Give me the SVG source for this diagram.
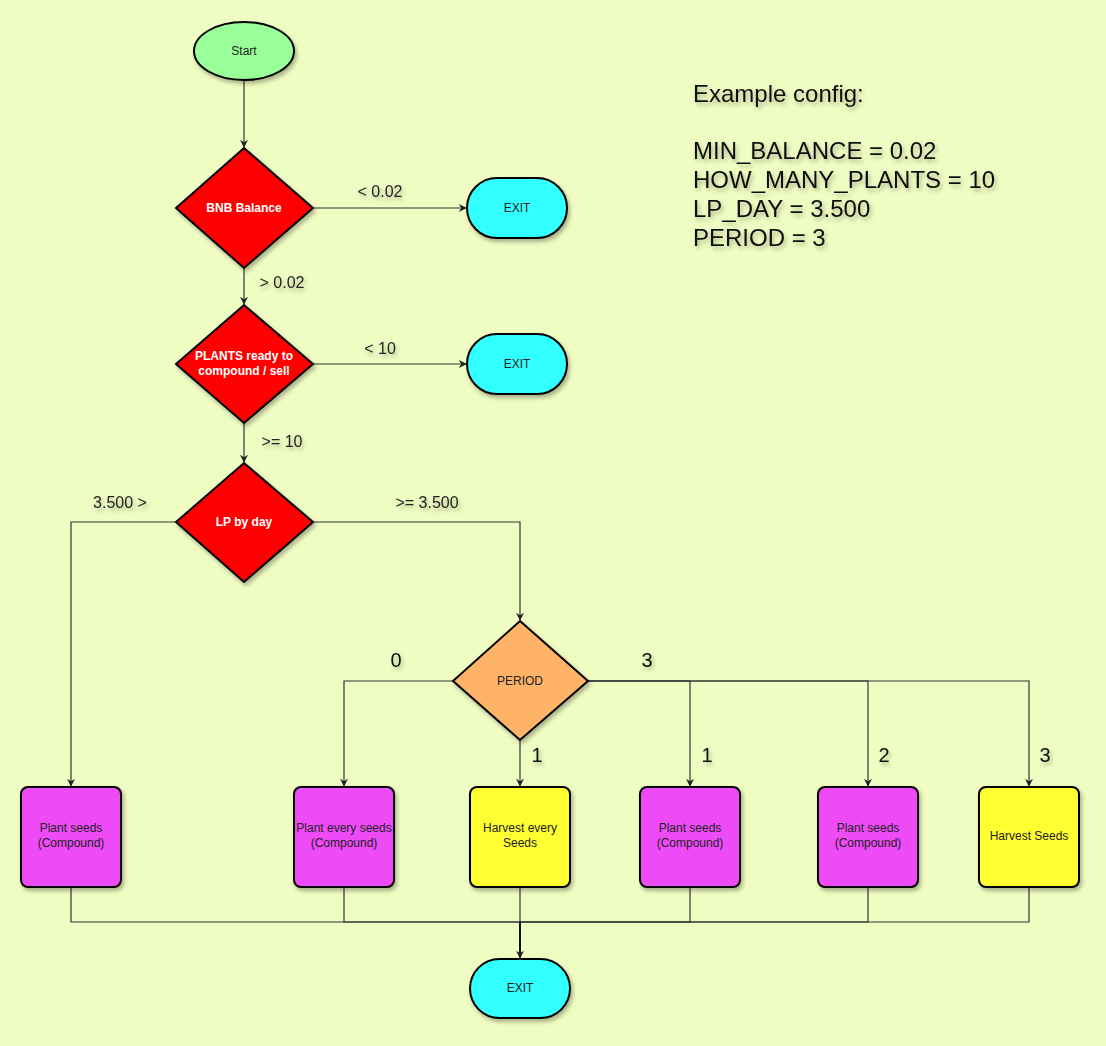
<svg xmlns="http://www.w3.org/2000/svg" width="1106" height="1046" viewBox="0 0 1106 1046">
<defs>
<filter id="sh" x="-20%" y="-20%" width="150%" height="150%">
<feDropShadow dx="2" dy="3" stdDeviation="2" flood-color="#000" flood-opacity="0.3"/>
</filter>
<marker id="ar" viewBox="0 0 10 10" refX="9" refY="5" markerWidth="8" markerHeight="8" markerUnits="userSpaceOnUse" orient="auto">
<path d="M0,0 L10,5 L0,10 L3,5 Z" fill="#222"/>
</marker>
</defs>
<style>
.n{stroke:#000;stroke-width:2;filter:url(#sh)}
.c{fill:none;stroke:#333;stroke-width:1.2}
.t{font-family:"Liberation Sans",Arial,sans-serif;font-size:12px;fill:#222;text-anchor:middle}
.w{font-family:"Liberation Sans",Arial,sans-serif;font-size:12px;fill:#fff;font-weight:bold;text-anchor:middle}
.e{font-family:"Liberation Sans",Arial,sans-serif;font-size:16px;fill:#222;text-anchor:middle;filter:url(#sh)}
.b{font-family:"Liberation Sans",Arial,sans-serif;font-size:20px;fill:#111;text-anchor:middle;filter:url(#sh)}
.cfg{font-family:"Liberation Sans",Arial,sans-serif;font-size:24px;fill:#111;filter:url(#sh)}
.mag{fill:#EE4BF7}
.yel{fill:#FFFF33}
.cy{fill:#33FFFF}
.red{fill:#FF0000}
</style>
<rect width="1106" height="1046" fill="#F0FDC2"/>

<g id="connectors">
<path class="c" d="M244,81 V147" marker-end="url(#ar)"/>
<path class="c" d="M313,208 H466" marker-end="url(#ar)"/>
<path class="c" d="M244,268 V304" marker-end="url(#ar)"/>
<path class="c" d="M313,364 H466" marker-end="url(#ar)"/>
<path class="c" d="M244,423 V462" marker-end="url(#ar)"/>
<path class="c" d="M176,522 H71 V786" marker-end="url(#ar)"/>
<path class="c" d="M313,522 H520 V620" marker-end="url(#ar)"/>
<path class="c" d="M453,681 H344 V786" marker-end="url(#ar)"/>
<path class="c" d="M520,740 V786" marker-end="url(#ar)"/>
<path class="c" d="M588,681 H690 V786" marker-end="url(#ar)"/>
<path class="c" d="M588,681 H868 V786" marker-end="url(#ar)"/>
<path class="c" d="M588,681 H1029 V786" marker-end="url(#ar)"/>
<path class="c" d="M71,888 V922 H520"/>
<path class="c" d="M344,888 V922 H520"/>
<path class="c" d="M520,888 V922"/>
<path class="c" d="M690,888 V922 H520"/>
<path class="c" d="M868,888 V922 H520"/>
<path class="c" d="M1029,888 V922 H520"/>
<path class="c" d="M520,922 V958" style="stroke:#111;stroke-width:2" marker-end="url(#ar)"/>
<text class="e" x="380" y="197">&lt; 0.02</text>
<text class="e" x="282" y="288">&gt; 0.02</text>
<text class="e" x="380" y="354">&lt; 10</text>
<text class="e" x="282" y="447">&gt;= 10</text>
<text class="e" x="120" y="508">3.500 &gt;</text>
<text class="e" x="427" y="508">&gt;= 3.500</text>
<text class="b" x="396" y="667">0</text>
<text class="b" x="647" y="667">3</text>
<text class="b" x="537" y="762">1</text>
<text class="b" x="707" y="762">1</text>
<text class="b" x="884" y="762">2</text>
<text class="b" x="1045" y="762">3</text>
</g>

<g id="start">
<ellipse class="n" cx="244" cy="51" rx="50" ry="29" fill="#99FF99"/>
<text class="t" x="244" y="55">Start</text>
</g>
<g id="bnb">
<polygon class="n red" points="244,148 313,208 244,268 176,208"/>
<text class="w" x="244" y="212">BNB Balance</text>
</g>
<g id="exit1">
<rect class="n cy" x="467" y="178" width="100" height="60" rx="30"/>
<text class="t" x="517" y="212">EXIT</text>
</g>
<g id="plants">
<polygon class="n red" points="244,305 313,364 244,423 176,364"/>
<text class="w" x="244" y="360">PLANTS ready to</text>
<text class="w" x="244" y="375">compound / sell</text>
</g>
<g id="exit2">
<rect class="n cy" x="467" y="334" width="100" height="60" rx="30"/>
<text class="t" x="517" y="368">EXIT</text>
</g>
<g id="lp">
<polygon class="n red" points="244,463 313,522 244,582 176,522"/>
<text class="w" x="244" y="526">LP by day</text>
</g>
<g id="period">
<polygon class="n" fill="#FFB366" points="520,621 588,681 520,740 453,681"/>
<text class="t" x="520" y="685">PERIOD</text>
</g>
<g id="box1">
<rect class="n mag" x="21" y="787" width="100" height="100" rx="7"/>
<text class="t" x="71" y="832">Plant seeds</text>
<text class="t" x="71" y="847">(Compound)</text>
</g>
<g id="box2">
<rect class="n mag" x="294" y="787" width="100" height="100" rx="7"/>
<text class="t" x="344" y="832">Plant every seeds</text>
<text class="t" x="344" y="847">(Compound)</text>
</g>
<g id="box3">
<rect class="n yel" x="470" y="787" width="100" height="100" rx="7"/>
<text class="t" x="520" y="832">Harvest every</text>
<text class="t" x="520" y="847">Seeds</text>
</g>
<g id="box4">
<rect class="n mag" x="640" y="787" width="100" height="100" rx="7"/>
<text class="t" x="690" y="832">Plant seeds</text>
<text class="t" x="690" y="847">(Compound)</text>
</g>
<g id="box5">
<rect class="n mag" x="818" y="787" width="100" height="100" rx="7"/>
<text class="t" x="868" y="832">Plant seeds</text>
<text class="t" x="868" y="847">(Compound)</text>
</g>
<g id="box6">
<rect class="n yel" x="979" y="787" width="100" height="100" rx="7"/>
<text class="t" x="1029" y="840">Harvest Seeds</text>
</g>
<g id="exit3">
<rect class="n cy" x="470" y="959" width="100" height="59" rx="29.5"/>
<text class="t" x="520" y="992">EXIT</text>
</g>
<g id="config">
<text class="cfg" x="693" y="102">Example config:</text>
<text class="cfg" x="693" y="159">MIN_BALANCE = 0.02</text>
<text class="cfg" x="693" y="188">HOW_MANY_PLANTS = 10</text>
<text class="cfg" x="693" y="217">LP_DAY = 3.500</text>
<text class="cfg" x="693" y="246">PERIOD = 3</text>
</g>
</svg>
